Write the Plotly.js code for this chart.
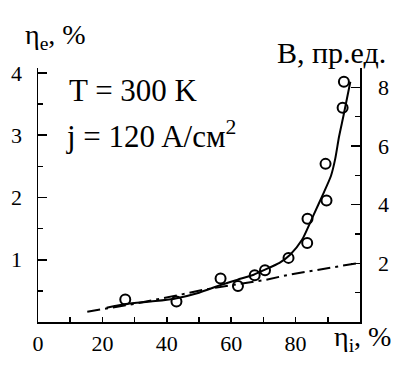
<!DOCTYPE html>
<html>
<head>
<meta charset="utf-8">
<style>
html,body{margin:0;padding:0;background:#fff;}
#warm{position:absolute;left:0;top:0;font-family:'Liberation Serif';font-size:22px;color:#fff;z-index:0;}
#chart{position:absolute;left:0;top:0;width:413px;height:365px;z-index:1;}
#chart text, #chart tspan { font-family: 'Liberation Serif', serif !important; }
</style>
</head>
<body>
<div id="warm">T = 300 K ηе пр.ед. 0123456789 %</div>
<div id="chart"></div>
<script src="https://cdn.plot.ly/plotly-3.0.1.min.js"></script>
<script>
// Measured points (eta_i, %) vs (eta_e, %)
const pointsX = [27.1, 43.0, 56.7, 62.1, 67.3, 70.5, 77.8, 83.6, 83.7, 89.6, 89.3, 94.6, 95.0];
const pointsY = [0.36, 0.33, 0.70, 0.58, 0.75, 0.83, 1.03, 1.27, 1.66, 1.95, 2.54, 3.44, 3.86];

// Solid fitted curve (eta_e)
const fitX = [21.3, 27.3, 35, 42.0, 50, 56.5, 62, 67, 70, 75, 78.3, 82, 85.6, 88.5, 91.0, 92.3, 93.5, 94.9, 97.0];
const fitY = [0.23, 0.29, 0.33, 0.37, 0.47, 0.59, 0.68, 0.76, 0.83, 0.95, 1.08, 1.32, 1.72, 2.05, 2.35, 2.62, 2.98, 3.32, 3.86];

// Dash-dot curve (B, relative units, right axis)
const bX = [15.3, 30, 45, 51.3, 60, 70.8, 78.3, 92.8, 100];
const bY = [0.35, 0.62, 0.95, 1.10, 1.25, 1.44, 1.62, 1.89, 2.02];

// Tick labels
const xTickVals = [0, 20, 40, 60, 80];
const xMinorVals = [10, 30, 50, 70, 90];
const yTickVals = [1, 2, 3, 4];
const yMinorVals = [0.5, 1.5, 2.5, 3.5];
const y2TickVals = [2, 4, 6, 8];
const y2MinorVals = [1, 3, 5, 7];

const FAM = 'Liberation Serif';

const traces = [
  {x: fitX, y: fitY, mode: 'lines', line: {color: '#000', width: 2, shape: 'spline', smoothing: 0.6}, hoverinfo: 'skip', showlegend: false},
  {x: bX, y: bY, yaxis: 'y2', mode: 'lines', line: {color: '#000', width: 2, dash: '13px,5px,3px,5px'}, hoverinfo: 'skip', showlegend: false},
  {x: pointsX, y: pointsY, mode: 'markers', marker: {symbol: 'circle-open', size: 10, color: '#000', line: {width: 2, color: '#000'}}, showlegend: false}
];

const L = 38, R = 359.8, T = 68, B = 322.3;
function px(x) { return (x - L) / (R - L); }
function py(y) { return (B - y) / (B - T); }

const layout = {
  width: 413, height: 365,
  margin: {l: L, r: 413 - R, t: T, b: 365 - B, pad: 0},
  paper_bgcolor: '#fff', plot_bgcolor: '#fff',
  showlegend: false,
  font: {family: FAM, color: '#000', size: 22},
  xaxis: {
    range: [0, 100], tickmode: 'array', tickvals: xTickVals,
    ticks: 'inside', ticklen: 5, tickwidth: 1.5, tickcolor: '#000',
    minor: {tickmode: 'array', tickvals: xMinorVals, ticks: 'inside', ticklen: 5, tickwidth: 1.5, tickcolor: '#000', showgrid: false},
    showline: true, linewidth: 1.5, linecolor: '#000', mirror: false,
    showgrid: false, zeroline: false, ticklabelstandoff: 1,
    tickfont: {family: FAM, size: 22, color: '#000'}
  },
  yaxis: {
    range: [0, 4.08], tickmode: 'array', tickvals: yTickVals,
    ticks: 'inside', ticklen: 9, tickwidth: 1.5, tickcolor: '#000',
    minor: {tickmode: 'array', tickvals: yMinorVals, ticks: 'inside', ticklen: 5, tickwidth: 1.5, tickcolor: '#000', showgrid: false},
    showline: true, linewidth: 1.5, linecolor: '#000',
    showgrid: false, zeroline: false, ticklabelstandoff: 10,
    tickfont: {family: FAM, size: 22, color: '#000'}
  },
  yaxis2: {
    overlaying: 'y', side: 'right', range: [0, 8.66], tickmode: 'array', tickvals: y2TickVals,
    ticks: 'inside', ticklen: 9, tickwidth: 1.5, tickcolor: '#000',
    minor: {tickmode: 'array', tickvals: y2MinorVals, ticks: 'inside', ticklen: 5, tickwidth: 1.5, tickcolor: '#000', showgrid: false},
    showline: true, linewidth: 1.5, linecolor: '#000',
    showgrid: false, zeroline: false, ticklabelstandoff: 12,
    tickfont: {family: FAM, size: 22, color: '#000'}
  },
  annotations: [
    {text: 'η<sub>e</sub>, %', xref: 'paper', yref: 'paper', x: px(23), y: py(36), xanchor: 'left', yanchor: 'middle', showarrow: false, font: {family: FAM, size: 28, color: '#000'}},
    {text: 'B, пр.ед.', xref: 'paper', yref: 'paper', x: px(275), y: py(52), xanchor: 'left', yanchor: 'middle', showarrow: false, font: {family: FAM, size: 30, color: '#000'}},
    {text: 'T = 300 K', xref: 'paper', yref: 'paper', x: px(67), y: py(91), xanchor: 'left', yanchor: 'middle', showarrow: false, font: {family: FAM, size: 31, color: '#000'}},
    {text: 'j = 120 A/см<sup>2</sup>', xref: 'paper', yref: 'paper', x: px(64), y: py(135), xanchor: 'left', yanchor: 'middle', showarrow: false, font: {family: FAM, size: 31, color: '#000'}},
    {text: 'η<sub>i</sub>, %', xref: 'paper', yref: 'paper', x: px(332), y: py(339), xanchor: 'left', yanchor: 'middle', showarrow: false, font: {family: FAM, size: 28, color: '#000'}}
  ]
};

const config = {displayModeBar: false, staticPlot: true};
function draw() { return Plotly.react('chart', traces, layout, config); }
draw();
if (document.fonts && document.fonts.load) {
  document.fonts.load('22px "Liberation Serif"').then(draw).catch(function () {});
  document.fonts.ready.then(draw).catch(function () {});
}
</script>
</body>
</html>
